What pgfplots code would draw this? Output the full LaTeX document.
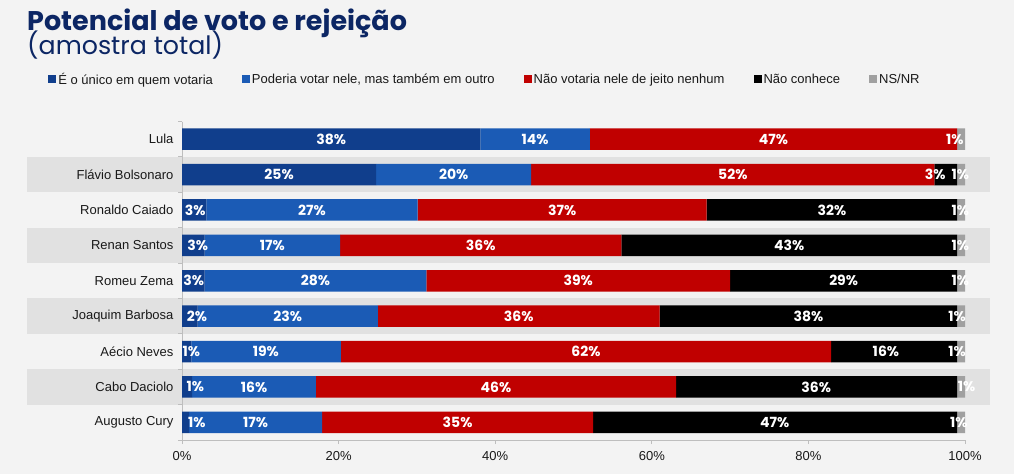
\documentclass[border=0pt]{standalone}
\usepackage{fontspec}
\setmainfont{Liberation Sans}
\newfontfamily\popp{Poppins}
\usepackage{pgfplots}
\pgfplotsset{compat=1.18}
\usepackage{pgfplotstable}
\definecolor{cA}{RGB}{16,62,140}
\definecolor{cB}{RGB}{27,91,181}
\definecolor{cC}{RGB}{192,0,0}
\definecolor{cD}{RGB}{0,0,0}
\definecolor{cE}{RGB}{160,160,160}
\definecolor{bg}{RGB}{243,243,243}
\definecolor{band}{RGB}{225,225,225}
\definecolor{navy}{RGB}{12,38,100}
\definecolor{axisgrey}{RGB}{190,190,190}
\definecolor{txt}{RGB}{25,25,25}

\pgfplotstableread{
idx A B C D E
0 38.1 14.0 46.9 0 1.0
1 24.8 19.8 51.5 2.9 1.0
2 3.1 27.0 36.9 32.0 1.0
3 2.9 17.3 35.9 42.9 1.0
4 2.9 28.3 38.8 29.0 1.0
5 2.0 23.0 36.0 38.0 1.0
6 1.2 19.1 62.6 16.1 1.0
7 1.3 15.8 46.0 35.9 1.0
8 0.9 17.0 34.6 46.5 1.0
}\data

\pgfplotstableread{
x y v
19.05 0 38
45.1 0 14
75.55 0 47
98.7 0 1
12.4 1 25
34.7 1 20
70.35 1 52
96.2 1 3
99.4 1 1
1.7 2 3
16.6 2 27
48.55 2 37
83.0 2 32
99.4 2 1
2.0 3 3
11.55 3 17
38.15 3 36
77.55 3 43
99.4 3 1
1.5 4 3
17.05 4 28
50.6 4 39
84.5 4 29
99.4 4 1
1.9 5 2
13.5 5 23
43.0 5 36
80.0 5 38
99.0 5 1
1.2 6 1
10.7 6 19
51.6 6 62
89.9 6 16
99.0 6 1
1.7 7 1
9.2 7 16
40.1 7 46
81.0 7 36
100.2 7 1
1.9 8 1
9.4 8 17
35.2 8 35
75.7 8 47
99.2 8 1
}\labels

\pgfplotsset{geom/.style={
  at={(182pt,34pt)}, anchor=south west,
  scale only axis, width=783pt, height=318.5pt,
  xmin=0, xmax=100, ymin=-0.5, ymax=8.5, y dir=reverse,
  clip=false}}

\begin{document}
\begin{tikzpicture}[x=1pt,y=1pt]
\useasboundingbox (0,0) rectangle (1014,474);
\fill[bg] (0,0) rectangle (1014,474);
\node[anchor=base west, inner sep=0, text=navy, font=\popp\bfseries\fontsize{27}{30}\selectfont] at (27,443) {Potencial de voto e rejeição};
\node[anchor=base west, inner sep=0, text=navy, font=\popp\fontsize{25.3}{28}\selectfont] at (27,419) {(amostra total)};

% background bands
\begin{axis}[geom, axis lines=none]
\fill[band] (axis cs:-19.8,0.5) rectangle (axis cs:103.2,1.5);
\fill[band] (axis cs:-19.8,2.5) rectangle (axis cs:103.2,3.5);
\fill[band] (axis cs:-19.8,4.5) rectangle (axis cs:103.2,5.5);
\fill[band] (axis cs:-19.8,6.5) rectangle (axis cs:103.2,7.5);
\end{axis}

\begin{axis}[
  geom,
  xbar stacked, bar width=21.5pt,
  axis x line*=bottom, axis y line*=left,
  axis line style={axisgrey, line width=0.8pt},
  xtick={0,20,...,100},
  xticklabel={\pgfmathprintnumber{\tick}\%},
  /pgf/number format/assume math mode=true,
  xticklabel style={font=\fontsize{13}{15}\selectfont, text=txt, yshift=-8pt},
  ytick={0,...,8},
  yticklabels={Lula, Flávio Bolsonaro, Ronaldo Caiado, Renan Santos, Romeu Zema, Joaquim Barbosa, Aécio Neves, Cabo Daciolo, Augusto Cury},
  yticklabel style={font=\fontsize{13}{15}\selectfont, text=txt, xshift=-5pt},
  minor ytick={-0.5,0.5,...,8.5},
  tick style={axisgrey, line width=0.8pt},
  major tick length=0pt, minor tick length=4pt,
  xtick style={/pgfplots/major tick length=4pt},
  tick align=outside,
  legend columns=5,
  legend style={at={(axis description cs:-0.171,1.132)}, anchor=west, draw=none, fill=none,
    font=\fontsize{13}{15}\selectfont, text=txt, inner sep=0pt,
    nodes={inner xsep=2pt, inner ysep=0pt},
    /tikz/every even column/.append style={column sep=27pt}},
  legend cell align=left,
  legend image code/.code={\fill[#1] (0pt,-4pt) rectangle (8pt,4pt);},
]
\addplot[fill=cA, draw=none] table[x=A, y=idx] {\data};
\addplot[fill=cB, draw=none] table[x=B, y=idx] {\data};
\addplot[fill=cC, draw=none] table[x=C, y=idx] {\data};
\addplot[fill=cD, draw=none] table[x=D, y=idx] {\data};
\addplot[fill=cE, draw=none] table[x=E, y=idx] {\data};
\legend{É o único em quem votaria, Poderia votar nele\hbox{,} mas também em outro, Não votaria nele de jeito nenhum, Não conhece, NS/NR}
\end{axis}

\begin{axis}[geom, axis lines=none, /pgf/number format/assume math mode=true]
\addplot[only marks, mark=none, point meta=explicit,
  nodes near coords={\pgfmathprintnumber{\pgfplotspointmeta}\%},
  nodes near coords style={anchor=center, inner sep=0pt, text=white, font=\popp\bfseries\fontsize{14}{16}\selectfont}]
  table[x=x, y=y, meta=v] {\labels};
\end{axis}
\end{tikzpicture}
\end{document}
